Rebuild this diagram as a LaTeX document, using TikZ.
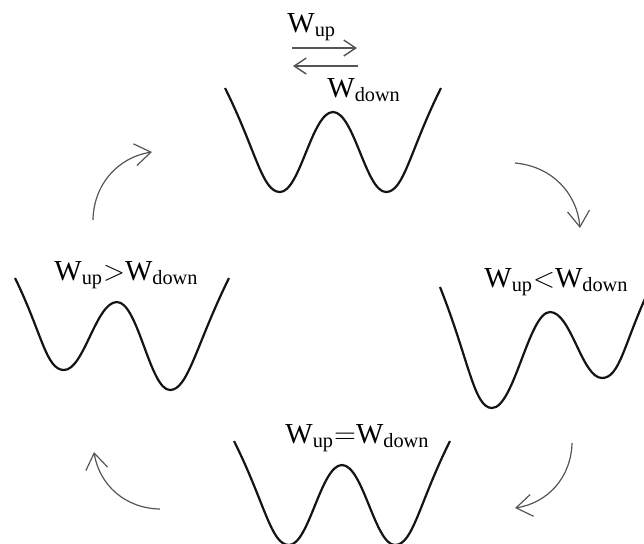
\documentclass[tikz,border=0pt]{standalone}
\usepackage{amsmath}
\usepackage{fontspec}
\setmainfont{Liberation Serif}
\usetikzlibrary{arrows.meta}
\definecolor{wellblack}{RGB}{20,20,20}
\definecolor{cyclegray}{RGB}{85,85,85}
\newcommand\Wsub[1]{W$_{\text{#1}}$}

\begin{document}
\begin{tikzpicture}[
    x=0.5pt, y=0.5pt,
    well/.style={draw=wellblack, line width=1.1pt, line join=round},
    cycarrow/.style={-{Straight Barb[length=8pt,width=11pt]}, cyclegray, line width=0.6pt},
    fluxarrow/.style={-{Straight Barb[length=6pt,width=8pt]}, cyclegray, line width=0.7pt},
    lbl/.style={inner sep=0pt, anchor=base west, font=\fontsize{14.5}{17}\selectfont},
]
    \useasboundingbox (0,0) rectangle (644,-543);

    % Top well (symmetric) with the two fluxes
    \draw[well] (225,-88) .. controls (256,-150) and (262,-192) .. (280,-192)
        .. controls (300,-192) and (312,-112) .. (333,-112)
        .. controls (354,-112) and (366,-192) .. (386,-192)
        .. controls (404,-192) and (410,-150) .. (441,-88);
    \node[lbl] (wup) at (287,-32) {\Wsub{up}};
    \node[lbl] (wdown) at (327,-97) {\Wsub{down}};
    \coordinate (fluxL1) at (292,-48);
    \coordinate (fluxR1) at (357,-48);
    \coordinate (fluxL2) at (293,-66);
    \coordinate (fluxR2) at (358,-66);
    \draw[fluxarrow] (fluxL1) -- (fluxR1);
    \draw[fluxarrow] (fluxR2) -- (fluxL2);

    % Right well (left minimum lower)
    \draw[well] (440,-287) .. controls (469,-360) and (474,-408) .. (492,-408)
        .. controls (514,-408) and (529,-312) .. (550,-312)
        .. controls (571,-312) and (582,-378) .. (602,-378)
        .. controls (620,-378) and (624,-343) .. (649,-290);
    \node[lbl] (lesser) at (484,-287) {\Wsub{up}$<$\Wsub{down}};

    % Bottom well (symmetric)
    \draw[well] (234,-441) .. controls (265,-503) and (271,-545) .. (289,-545)
        .. controls (309,-545) and (321,-465) .. (342,-465)
        .. controls (363,-465) and (375,-545) .. (395,-545)
        .. controls (413,-545) and (419,-503) .. (450,-441);
    \node[lbl] (equal) at (285,-443) {\Wsub{up}$=$\Wsub{down}};

    % Left well (right minimum lower)
    \draw[well] (15,-278) .. controls (42,-333) and (46,-370) .. (64,-370)
        .. controls (84,-370) and (96,-302) .. (117,-302)
        .. controls (138,-302) and (150,-390) .. (170,-390)
        .. controls (188,-390) and (196,-345) .. (229,-278);
    \node[lbl] (greater) at (54,-280) {\Wsub{up}$>$\Wsub{down}};

    % Cycle arrows
    \coordinate (trS) at (515,-163);
    \coordinate (trE) at (580,-228);
    \coordinate (brS) at (572,-443);
    \coordinate (brE) at (515,-508);
    \coordinate (blS) at (160,-509);
    \coordinate (blE) at (94,-452);
    \coordinate (tlS) at (93,-220);
    \coordinate (tlE) at (152,-152);
    \draw[cycarrow] (trS) to[bend left=40] (trE);
    \draw[cycarrow] (brS) to[bend left=40] (brE);
    \draw[cycarrow] (blS) to[bend left=40] (blE);
    \draw[cycarrow] (tlS) to[bend left=40] (tlE);
\end{tikzpicture}
\end{document}
